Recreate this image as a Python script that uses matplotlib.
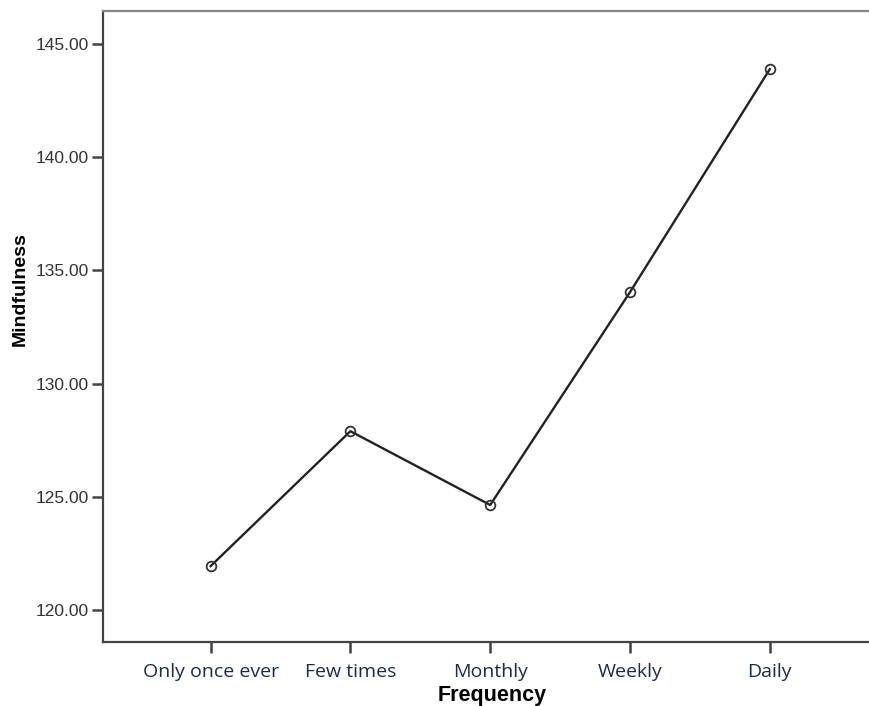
import matplotlib
matplotlib.use('Agg')
import matplotlib.pyplot as plt

# Dati
categories = ["Only once ever", "Few times", "Monthly", "Weekly", "Daily"]
mindfulness = [121.94, 127.90, 124.64, 134.04, 143.89]
y_ticks = [120, 125, 130, 135, 140, 145]

fig = plt.figure(figsize=(8.69, 7.06), dpi=100)
ax = fig.add_axes([0.1185, 0.0907, 0.8815, 0.8937])

x = list(range(len(categories)))
ax.plot(x, mindfulness, color='#222222', linewidth=1.7,
        marker='o', markersize=7, markerfacecolor='none',
        markeredgecolor='#333333', markeredgewidth=1.3)

ax.set_xlim(-0.77, 4.71)
ax.set_ylim(118.59, 146.46)
ax.set_xticks(x)
ax.set_xticklabels(categories, fontsize=14, family='Open Sans', color='#1f2a44')
ax.set_yticks(y_ticks)
ax.set_yticklabels([f"{v:.2f}" for v in y_ticks], fontsize=12.5,
                   family='Liberation Sans', color='#333333')

ax.tick_params(axis='both', direction='out', length=8, width=1.8, color='#444444')
ax.tick_params(axis='x', pad=7)
ax.tick_params(axis='y', pad=2)

for s in ['left', 'bottom']:
    ax.spines[s].set_linewidth(1.6)
    ax.spines[s].set_color('#444444')
ax.spines['top'].set_linewidth(1.6)
ax.spines['top'].set_color('#888888')
ax.spines['right'].set_visible(False)

ax.set_xlabel("Frequency", fontsize=15.5, fontweight='bold', family='Liberation Sans', labelpad=3)
ax.xaxis.label.set_x(0.508)  # nel riferimento l'etichetta e' leggermente a destra
ax.set_ylabel("Mindfulness", fontsize=14, fontweight='bold', family='Liberation Sans')
ax.yaxis.set_label_coords(-0.097, 0.56)

fig.savefig("out.png", dpi=100)
